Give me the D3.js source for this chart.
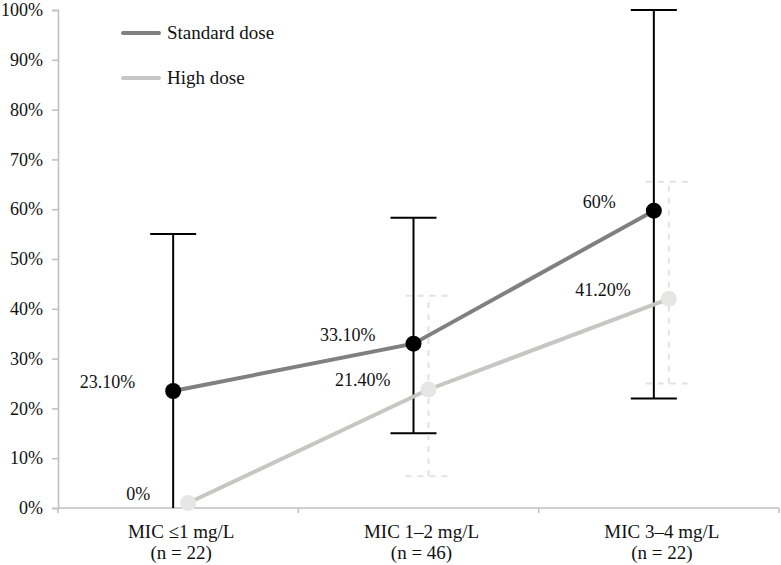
<!DOCTYPE html>
<html>
<head>
<meta charset="utf-8">
<script src="https://cdn.jsdelivr.net/npm/d3@7"></script>
<style>
  body { margin: 0; background: #fff; }
</style>
</head>
<body>
<script>
// data
const categories = ["MIC \u22641 mg/L", "MIC 1\u20132 mg/L", "MIC 3\u20134 mg/L"];
const groupN = ["(n = 22)", "(n = 46)", "(n = 22)"];

const standardVals = [23.5, 33, 59.7];
const standardLabels = ["23.10%", "33.10%", "60%"];
const standardLow = [0, 15, 22];
const standardHigh = [55, 58.3, 100];

const highVals = [1, 23.8, 42];
const highLabels = ["0%", "21.40%", "41.20%"];
const highLow = [null, 6.4, 25];
const highHigh = [null, 42.6, 65.5];

const yTicks = [0, 10, 20, 30, 40, 50, 60, 70, 80, 90, 100];

const FONT = "'Liberation Serif', 'DejaVu Serif', serif";

function main(){
    const width = 781;
    const height = 565;

    const svg = d3.select("body").append("svg")
        .attr("width", width)
        .attr("height", height);

    const x = d3.scaleBand().domain(categories).range([58, 779]);
    const y = d3.scaleLinear().domain([0, 100]).range([508, 10]);

    const series = [
        {name: "Standard dose", vals: standardVals, labels: standardLabels, lo: standardLow, hi: standardHigh,
         line: "#808080", dot: "#000", bar: "#000", dash: null, shift: -5},
        {name: "High dose", vals: highVals, labels: highLabels, lo: highLow, hi: highHigh,
         line: "#c6c6c4", dot: "#e6e6e4", bar: "#e2e2e2", dash: "6,6", shift: 10}
    ];
    const cx = (c, s) => x(c) + x.bandwidth() / 2 + s.shift;

    // y axis
    const yAxis = svg.append("g")
        .attr("transform", "translate(58,0)")
        .call(d3.axisLeft(y).tickValues(yTicks).tickSize(6).tickPadding(9).tickFormat(d => d + "%"));
    yAxis.select(".domain").attr("stroke", "#bfbfbf").attr("stroke-width", 1.5);
    yAxis.selectAll(".tick line").attr("stroke", "#bfbfbf").attr("stroke-width", 1.5);
    yAxis.selectAll(".tick text")
        .style("font-family", FONT)
        .style("font-size", "18px")
        .attr("fill", "#111");

    // x axis
    const xAxis = svg.append("g")
        .attr("transform", "translate(0,508)");
    xAxis.append("line")
        .attr("x1", 58).attr("x2", 779)
        .attr("stroke", "#bfbfbf").attr("stroke-width", 1.5);
    xAxis.selectAll(".sep")
        .data(categories.concat(["end"]))
        .enter().append("line")
        .attr("x1", (d, i) => i < categories.length ? x(d) : x(categories[categories.length - 1]) + x.bandwidth())
        .attr("x2", (d, i) => i < categories.length ? x(d) : x(categories[categories.length - 1]) + x.bandwidth())
        .attr("y1", 0).attr("y2", 5)
        .attr("stroke", "#bfbfbf").attr("stroke-width", 1.5);
    const catLabel = xAxis.selectAll(".cat")
        .data(categories)
        .enter().append("text")
        .attr("text-anchor", "middle")
        .style("font-family", FONT)
        .style("font-size", "19px")
        .attr("fill", "#111");
    catLabel.append("tspan")
        .attr("x", d => x(d) + x.bandwidth() / 2 + 3)
        .attr("y", 30)
        .text(d => d);
    catLabel.append("tspan")
        .attr("x", d => x(d) + x.bandwidth() / 2 + 3)
        .attr("y", 51)
        .text((d, i) => groupN[i]);

    // error bars
    series.forEach(s => {
        const g = svg.append("g");
        categories.forEach((c, i) => {
            if (s.lo[i] == null) return;
            const px = cx(c, s);
            g.append("line")
                .attr("x1", px).attr("x2", px)
                .attr("y1", y(s.lo[i])).attr("y2", y(s.hi[i]))
                .attr("stroke", s.bar).attr("stroke-width", 2)
                .attr("stroke-dasharray", s.dash);
            [s.lo[i], s.hi[i]].forEach(v => {
                if (v === 0) return;
                g.append("line")
                    .attr("x1", px - 23).attr("x2", px + 23)
                    .attr("y1", y(v)).attr("y2", y(v))
                    .attr("stroke", s.bar).attr("stroke-width", 2)
                    .attr("stroke-dasharray", s.dash);
            });
        });
    });

    // lines + points
    series.slice().reverse().forEach(s => {
        const line = d3.line()
            .x((d, i) => cx(categories[i], s))
            .y(d => y(d));
        svg.append("path")
            .datum(s.vals)
            .attr("d", line)
            .attr("fill", "none")
            .attr("stroke", s.line)
            .attr("stroke-width", 4);
        svg.append("g").selectAll("circle")
            .data(s.vals)
            .enter().append("circle")
            .attr("cx", (d, i) => cx(categories[i], s))
            .attr("cy", d => y(d))
            .attr("r", 8)
            .attr("fill", s.dot);
        svg.append("g").selectAll("text")
            .data(s.vals)
            .enter().append("text")
            .attr("x", (d, i) => cx(categories[i], s) - 38)
            .attr("y", d => y(d) - 3)
            .attr("text-anchor", "end")
            .style("font-family", FONT)
            .style("font-size", "18px")
            .attr("fill", "#111")
            .text((d, i) => s.labels[i]);
    });

    // legend
    const legend = svg.append("g");
    series.forEach((s, i) => {
        const ly = 33 + i * 45;
        legend.append("line")
            .attr("x1", 123).attr("x2", 159)
            .attr("y1", ly).attr("y2", ly)
            .attr("stroke", s.line).attr("stroke-width", 4)
            .attr("stroke-linecap", "round");
        legend.append("text")
            .attr("x", 167).attr("y", ly + 6)
            .style("font-family", FONT)
            .style("font-size", "19px")
            .attr("fill", "#111")
            .text(s.name);
    });
}

main();
</script>
</body>
</html>
